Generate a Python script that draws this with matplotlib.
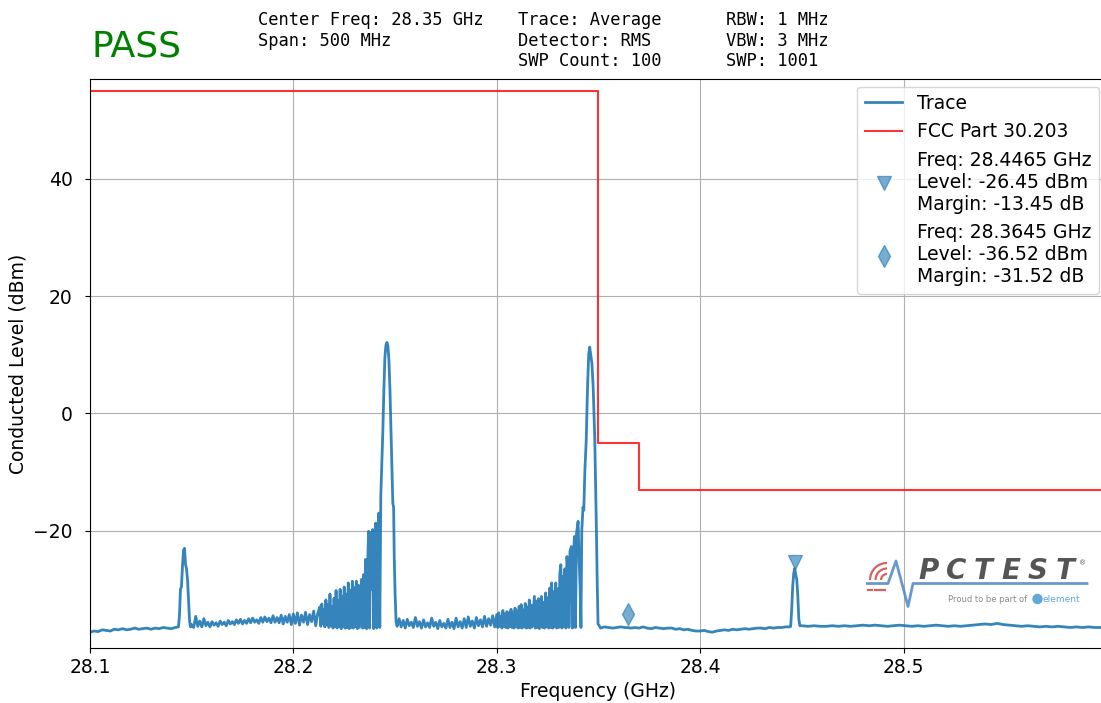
import numpy as np
import matplotlib
matplotlib.use("Agg")
import matplotlib.pyplot as plt
from matplotlib.transforms import offset_copy
from matplotlib.patches import Arc, Circle

plt.rcParams['font.size'] = 13.5

# sweep settings
start_ghz = 28.1
stop_ghz = 28.6

# measured trace: offset from start (MHz) and level (dBm)
trace_mhz = [
    0, 2, 4, 6, 8, 10, 12, 14, 16, 18, 20, 22, 24, 26, 28, 30, 32, 34, 36, 38, 40, 42, 43.5,
    44, 44.5, 45, 45.5, 46, 46.5, 47, 47.5, 48, 48.5, 49, 49.5,
    50, 51, 52, 53, 54, 55, 56, 57, 58, 59, 60, 61, 62, 63, 64, 65, 66, 67, 68, 69,
    70, 71, 72, 73, 74, 75, 76, 77, 78, 79, 80, 81, 82, 83, 84, 85, 86, 87, 88, 89,
    90, 91, 92, 93, 94, 95, 96, 97, 98, 99, 100, 101, 102, 103, 104, 105, 106, 107,
    108, 109, 110, 111, 112,
    113.0, 113.5, 114.0, 114.5, 115.0, 115.5, 116.0, 116.5, 117.0, 117.5, 118.0, 118.5,
    119.0, 119.5, 120.0, 120.5, 121.0, 121.5, 122.0, 122.5, 123.0, 123.5, 124.0, 124.5,
    125.0, 125.5, 126.0, 126.5, 127.0, 127.5, 128.0, 128.5, 129.0, 129.5, 130.0, 130.5,
    131.0, 131.5, 132.0, 132.5, 133.5, 134.0, 134.5, 135.0, 135.5, 136.0, 136.5, 137.0,
    137.5, 138.0, 138.5, 139.0, 139.5, 140.0, 140.5, 141.0, 141.5, 142.0, 142.5,
    143.0, 143.5, 144.0, 144.5, 145.0, 145.5, 146.0, 146.5, 147.0, 147.5, 148.0, 148.5,
    148.9, 149.3, 149.6, 150.0, 150.5,
    151, 152, 153, 154, 155, 156, 157, 158, 159, 160, 161, 162, 163, 164, 165, 166, 167,
    168, 169, 170, 171, 172, 173, 174, 175, 176, 177, 178, 179, 180, 181, 182, 183, 184,
    185, 186, 187, 188, 189, 190, 191, 192, 193, 194, 195, 196, 197, 198, 199, 200,
    200.5, 201.0, 201.5, 202.0, 202.5, 203.0, 203.5, 204.0, 204.5, 205.0, 205.5, 206.0,
    206.5, 207.0, 207.5, 208.0, 208.5, 209.0, 209.5, 210.0, 210.5, 211.0, 211.5, 212.0,
    212.5, 213.0, 213.5, 214.0, 214.5, 215.0, 215.5, 216.0, 216.5, 217.0, 217.5, 218.5,
    219.0, 219.5, 220.0, 220.5, 221.0, 222.0, 222.5, 223.0, 223.5, 224.0, 224.5, 225.0,
    225.5, 226.0, 226.5, 227.0, 227.5, 228.0, 228.5, 229.0, 229.5, 230.0, 230.5, 231.0,
    231.5, 232.0, 232.5, 233.0, 233.5, 234.0, 234.5, 235.0, 235.5, 236.0, 236.7, 237.2,
    237.7, 238.2, 238.7, 239.2, 240.0, 240.5, 241.0, 241.4, 241.8, 242.4, 242.8, 243.3,
    244.0, 244.6, 245.2, 245.7, 246.2, 246.8, 247.4, 248.2, 248.6, 249.0, 249.4, 249.8,
    250.6,
    251, 253, 255, 257, 259, 261, 263, 264.5, 266, 268, 270, 272, 274, 276, 278, 280,
    282, 284, 286, 288, 290, 292, 294, 296, 298, 300, 302, 304, 306, 308, 310, 312, 314,
    316, 318, 320, 322, 324, 326, 328, 330, 332, 334, 336, 338, 340, 342, 344,
    344.5, 345.0, 345.5, 346.0, 346.5, 347.0, 347.5, 348.0, 348.5, 349.0,
    350, 353, 356, 359, 362, 365, 368, 371, 374, 377, 380, 383, 386, 389, 392, 395, 398,
    401, 404, 407, 410, 413, 416, 419, 422, 425, 428, 431, 434, 437, 440, 443, 446, 449,
    452, 455, 458, 461, 464, 467, 470, 473, 476, 479, 482, 485, 488, 491, 494, 497, 500,
]
trace_dbm = [
    -37.3, -37.1, -37.2, -36.9, -37.0, -37.1, -36.8, -36.9, -36.7, -36.9, -36.8, -36.6,
    -36.8, -36.7, -36.6, -36.8, -36.6, -36.7, -36.5, -36.6, -36.7, -36.5, -36.4,
    -34.5, -30.0, -29.5, -26.0, -23.3, -23.0, -25.8, -26.5, -28.5, -32.0, -35.5, -36.4,
    -36.0, -36.5, -34.6, -36.3, -35.4, -36.4, -35.0, -36.2, -35.6, -36.4, -35.5, -36.1,
    -35.7, -36.3, -35.4, -36.0, -35.6, -36.2, -35.3, -35.9,
    -35.5, -36.0, -35.2, -35.8, -35.1, -35.9, -35.3, -35.8, -35.0, -35.7, -34.9, -35.6,
    -35.2, -35.8, -34.8, -35.6, -34.7, -35.5, -34.9, -35.7,
    -34.5, -35.6, -34.8, -35.7, -34.4, -35.9, -34.6, -35.6, -34.3, -36.0, -34.2, -35.8,
    -34.0, -36.1, -34.4, -35.6, -33.9, -36.0,
    -34.3, -35.5, -33.7, -36.2, -34.1,
    -33.0, -36.3, -32.5, -35.8, -33.4, -36.4, -31.8, -36.0, -32.6, -36.5, -30.8, -36.2,
    -32.9, -36.6, -31.5, -36.4, -30.2, -36.6, -31.9, -36.3, -30.0, -36.7, -31.2, -36.4,
    -29.6, -36.6, -30.8, -36.5, -28.9, -36.7, -30.2, -36.5, -28.6, -36.6, -29.7, -36.4,
    -28.6, -36.7, -29.3, -36.5, -28.3, -36.6, -27.5, -36.5, -24.9, -36.7, -26.0, -20.1,
    -36.6, -20.3, -30.0, -19.8, -36.7, -22.5, -18.7, -36.6, -20.5, -17.0, -36.5,
    -14.0, -8.5, -3.0, 4.0, 9.5, 11.6, 12.1, 11.5, 9.0, 4.0, -3.0, -10.5,
    -15.3, -16.0, -24.5, -30.5, -35.5,
    -36.3, -35.0, -36.4, -35.3, -36.6, -35.1, -36.2, -35.6, -36.5, -34.8, -36.3, -35.5,
    -36.6, -35.2, -36.4, -35.7, -36.5, -34.9, -36.3, -35.6, -36.7, -35.3, -36.4, -35.8,
    -36.6, -35.1, -36.5, -35.6, -36.7, -34.9, -36.4, -35.5, -36.6, -35.0, -36.5, -34.7,
    -36.3, -35.4, -36.6, -34.8, -36.2, -35.2, -36.4, -34.6, -36.3, -35.0, -36.1, -34.5,
    -36.4, -34.3,
    -36.5, -34.0, -36.3, -34.6, -36.6, -33.6, -36.4, -34.2, -36.5, -33.8, -36.6, -34.0,
    -36.3, -33.4, -36.5, -33.9, -36.6, -33.2, -36.4, -33.7, -36.6, -32.9, -36.5, -32.6,
    -36.6, -33.5, -36.4, -32.4, -36.6, -33.0, -36.5, -31.8, -36.6, -32.7, -36.4, -31.2,
    -36.6, -32.0, -36.5, -31.6, -36.7, -31.2, -36.5, -32.2, -36.6, -30.6, -36.4, -31.4,
    -36.6, -29.8, -36.5, -28.9, -36.6, -30.4, -36.4, -28.9, -36.6, -29.9, -36.5, -27.4,
    -25.8, -36.6, -27.8, -36.4, -26.5, -36.6, -24.4, -26.5, -36.5, -23.5, -22.7, -36.6,
    -24.5, -21.0, -36.5, -20.5, -18.4, -25.0, -30.0, -36.5, -20.0, -16.0, -16.5, -10.0,
    -4.5, 4.0, 10.0, 11.3, 10.0, 8.5, 4.5, -4.5, -12.0, -19.9, -29.0, -35.9,
    -36.3,
    -36.6, -36.4, -36.5, -36.6, -36.5, -36.4, -36.5, -36.52, -36.6, -36.5, -36.6, -36.4,
    -36.6, -36.7, -36.5, -36.6, -36.7, -36.6, -36.6, -36.8, -36.7, -36.9, -36.8, -37.0,
    -37.1, -37.1, -37.0, -37.2, -37.3, -37.1, -37.0, -36.9, -37.0, -36.8, -36.9, -36.8,
    -36.7, -36.8, -36.7, -36.6, -36.6, -36.7, -36.5, -36.6, -36.5, -36.5, -36.4, -36.4,
    -36.3, -33.5, -29.5, -27.3, -26.45, -27.5, -28.3, -31.0, -35.0, -36.2,
    -36.2, -36.3, -36.2, -36.3, -36.3, -36.2, -36.3, -36.2, -36.3, -36.2, -36.1, -36.2,
    -36.1, -36.2, -36.3, -36.2, -36.1, -36.2, -36.3, -36.2, -36.3, -36.2, -36.1, -36.2,
    -36.3, -36.2, -36.3, -36.2, -36.1, -36.0, -35.9, -36.0, -35.8, -36.0, -36.1, -36.2,
    -36.3, -36.2, -36.3, -36.4, -36.3, -36.4, -36.3, -36.4, -36.5, -36.4, -36.5, -36.4,
    -36.5, -36.5, -36.6,
]

# FCC Part 30.203 mask: edges (GHz) and limit (dBm)
limit_edges = [28.1, 28.35, 28.37, 28.6]
limit_dbm = [55, -5, -13]

# peak markers
marker_freq = [28.4465, 28.3645]
marker_level = [-26.45, -36.52]
marker_margin = [-13.45, -31.52]

header_cols = [
    "Center Freq: 28.35 GHz\nSpan: 500 MHz",
    "Trace: Average\nDetector: RMS\nSWP Count: 100",
    "RBW: 1 MHz\nVBW: 3 MHz\nSWP: 1001",
]

fig = plt.figure(figsize=(11.01, 7.03), dpi=100)
ax = fig.add_axes([0.0817, 0.0782, 0.9237, 0.8094])

freq = start_ghz + np.array(trace_mhz) / 1000.0
ax.plot(freq, trace_dbm, color='C0', lw=2.0, alpha=0.9, label='Trace')
ax.step(limit_edges, limit_dbm + [limit_dbm[-1]], where='post',
        color='red', lw=1.5, alpha=0.8, label='FCC Part 30.203')

for f, lv, mg, mk, dy in zip(marker_freq, marker_level, marker_margin, ['v', 'd'], [4.5, 10]):
    tr = offset_copy(ax.transData, fig=fig, x=0, y=dy, units='points')
    ax.plot([f], [lv], marker=mk, ms=11 if mk == 'd' else 10, color='C0', alpha=0.6,
            ls='none', transform=tr,
            label=f"Freq: {f} GHz\nLevel: {lv} dBm\nMargin: {mg} dB")

ax.set_xlim(start_ghz, stop_ghz)
ax.set_ylim(-40, 57)
ax.set_xticks([28.1, 28.2, 28.3, 28.4, 28.5])
ax.set_yticks([-20, 0, 20, 40])
ax.tick_params(axis='y', pad=9)
ax.grid(True)
ax.set_xlabel('Frequency (GHz)')
ax.set_ylabel('Conducted Level (dBm)')
ax.legend(loc='upper right', borderaxespad=0.4)

fig.text(0.083, 0.934, 'PASS', color='green', fontsize=26, va='center')
for x, txt in zip([0.2345, 0.4705, 0.6595], header_cols):
    fig.text(x, 0.984, txt, family='DejaVu Sans Mono', fontsize=12.3, va='top',
             linespacing=1.17)

# PCTEST logo, drawn in pixel units
lg = fig.add_axes([866 / 1101, (703 - 612) / 703, 224 / 1101, 58 / 703])
lg.set_xlim(866, 1090)
lg.set_ylim(612, 554)
lg.axis('off')
lg.patch.set_alpha(0)
lg.plot([867, 888, 896, 908, 913, 1087], [583.5, 583.5, 561, 606.5, 583.5, 583.5],
        color='#4f86c6', lw=2, alpha=0.85)
for r in [6, 11.5, 17]:
    lg.add_patch(Arc((887, 580), 2 * r, 2 * r, theta1=180, theta2=270,
                     color='#d96060', lw=1.6))
for x0 in [868, 874.5, 881]:
    lg.plot([x0, x0 + 4], [590, 590], color='#d96060', lw=1.6)
for i, ch in enumerate('PCTEST'):
    lg.text(929 + 27.2 * i, 571, ch, fontsize=20, fontweight='bold', style='italic',
            color='#555555', ha='center', va='center')
lg.text(1083, 563, '®', fontsize=5, color='#555555', ha='center', va='center')
lg.text(988, 599, 'Proud to be part of', fontsize=6, color='#8a8a8a', ha='center', va='center')
lg.add_patch(Circle((1037.5, 599), 4.5, color='#5fa8d8'))
lg.text(1061, 599, 'element', fontsize=6.5, color='#5fa8d8', ha='center', va='center')

fig.savefig('out.png', dpi=100)
